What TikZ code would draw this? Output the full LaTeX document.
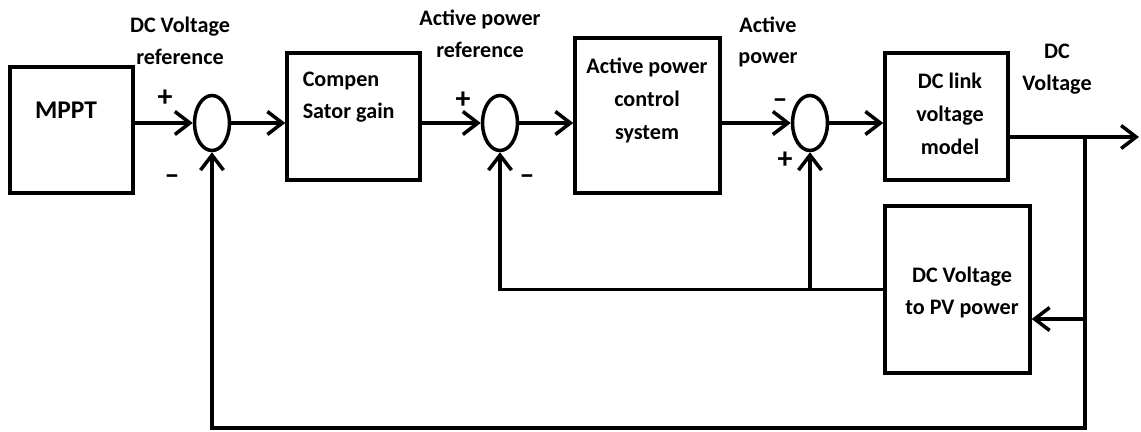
\documentclass[tikz,border=0pt]{standalone}
\usepackage{fontspec}
\setmainfont{Carlito}
\usetikzlibrary{arrows.meta,calc,shapes.geometric}

\begin{document}
\begin{tikzpicture}[>={Straight Barb[length=3mm,width=4.6mm]}, line width=2pt,
  font=\fontsize{12.6}{18}\selectfont\bfseries,
  blk/.style={draw,inner sep=0pt}, sum/.style={draw,ellipse,minimum width=7mm,minimum height=11mm,inner sep=0pt},
  txt/.style={align=center,inner sep=0pt}, sgn/.style={inner sep=0pt,font=\fontsize{17}{18}\selectfont\bfseries}]
  \useasboundingbox (0,0) rectangle (22.82,-8.64);
  % blocks
  \node[blk,minimum width=2.46cm,minimum height=2.52cm](mppt) at (1.43,-2.60){};
  \node[blk,minimum width=2.66cm,minimum height=2.54cm](comp) at (7.07,-2.33){};
  \node[blk,minimum width=2.90cm,minimum height=3.10cm](apcs) at (12.95,-2.31){};
  \node[blk,minimum width=2.46cm,minimum height=2.54cm](dcl) at (18.93,-2.33){};
  \node[blk,minimum width=2.90cm,minimum height=3.34cm](pv) at (19.15,-5.79){};
  \node[txt,font=\fontsize{14.5}{18}\selectfont\bfseries](mppttxt) at (1.32,-2.20){MPPT};
  \node[txt,align=left,anchor=west](comptxt) at (6.02,-1.94){Compen\\Sator gain};
  \node[txt,font=\fontsize{12.6}{18.8}\selectfont\bfseries](apcstxt) at (12.94,-2.00){Active power\\control\\system};
  \node[txt,font=\fontsize{12.6}{18.8}\selectfont\bfseries](dcltxt) at (19.00,-2.28){DC link\\voltage\\model};
  \node[txt](pvtxt) at (19.24,-5.85){DC Voltage\\to PV power};
  % summing points
  \node[sum](s1) at (4.24,-2.46){};
  \node[sum](s2) at (10.00,-2.46){};
  \node[sum](s3) at (16.20,-2.46){};
  % signal labels and signs
  \node[txt](vref) at (3.60,-0.82){DC Voltage\\reference};
  \node[txt](pref) at (9.60,-0.68){Active power\\reference};
  \node[txt](pact) at (15.36,-0.84){Active\\power};
  \node[txt](vdc) at (21.14,-1.38){DC\\Voltage};
  \node[sgn](p1) at (3.30,-1.96){+};  \node[sgn](m1) at (3.44,-3.60){--};
  \node[sgn](p2) at (9.26,-2.00){+};  \node[sgn](m2) at (10.54,-3.60){--};
  \node[sgn](m3) at (15.60,-2.08){--}; \node[sgn](p3) at (15.70,-3.20){+};
  % forward path
  \foreach \a/\b in {mppt/s1,comp/s2,apcs/s3}{ \draw[->](\b -| \a.east)--(\b); }
  \foreach \a/\b in {s1/comp,s2/apcs,s3/dcl}{ \draw[->](\a)--(\a -| \b.west); }
  \coordinate(dco) at ($(dcl.east)+(0,-0.41)$);
  \coordinate(br) at (21.70,-2.74);
  \coordinate(out) at (22.78,-2.74);
  \coordinate(pvin) at ($(pv.east)+(0,-0.59)$);
  \coordinate(bot) at (21.70,-8.56);
  \draw[->](dco)--(out);
  % feedback paths
  \draw[->](br)|-(pvin);
  \draw[->](br)--(bot)-|(s1.south);
  \draw[->](pv.west)-|(s2.south);
  \draw[->](pv.west -| s3)--(s3.south);
\end{tikzpicture}
\end{document}
